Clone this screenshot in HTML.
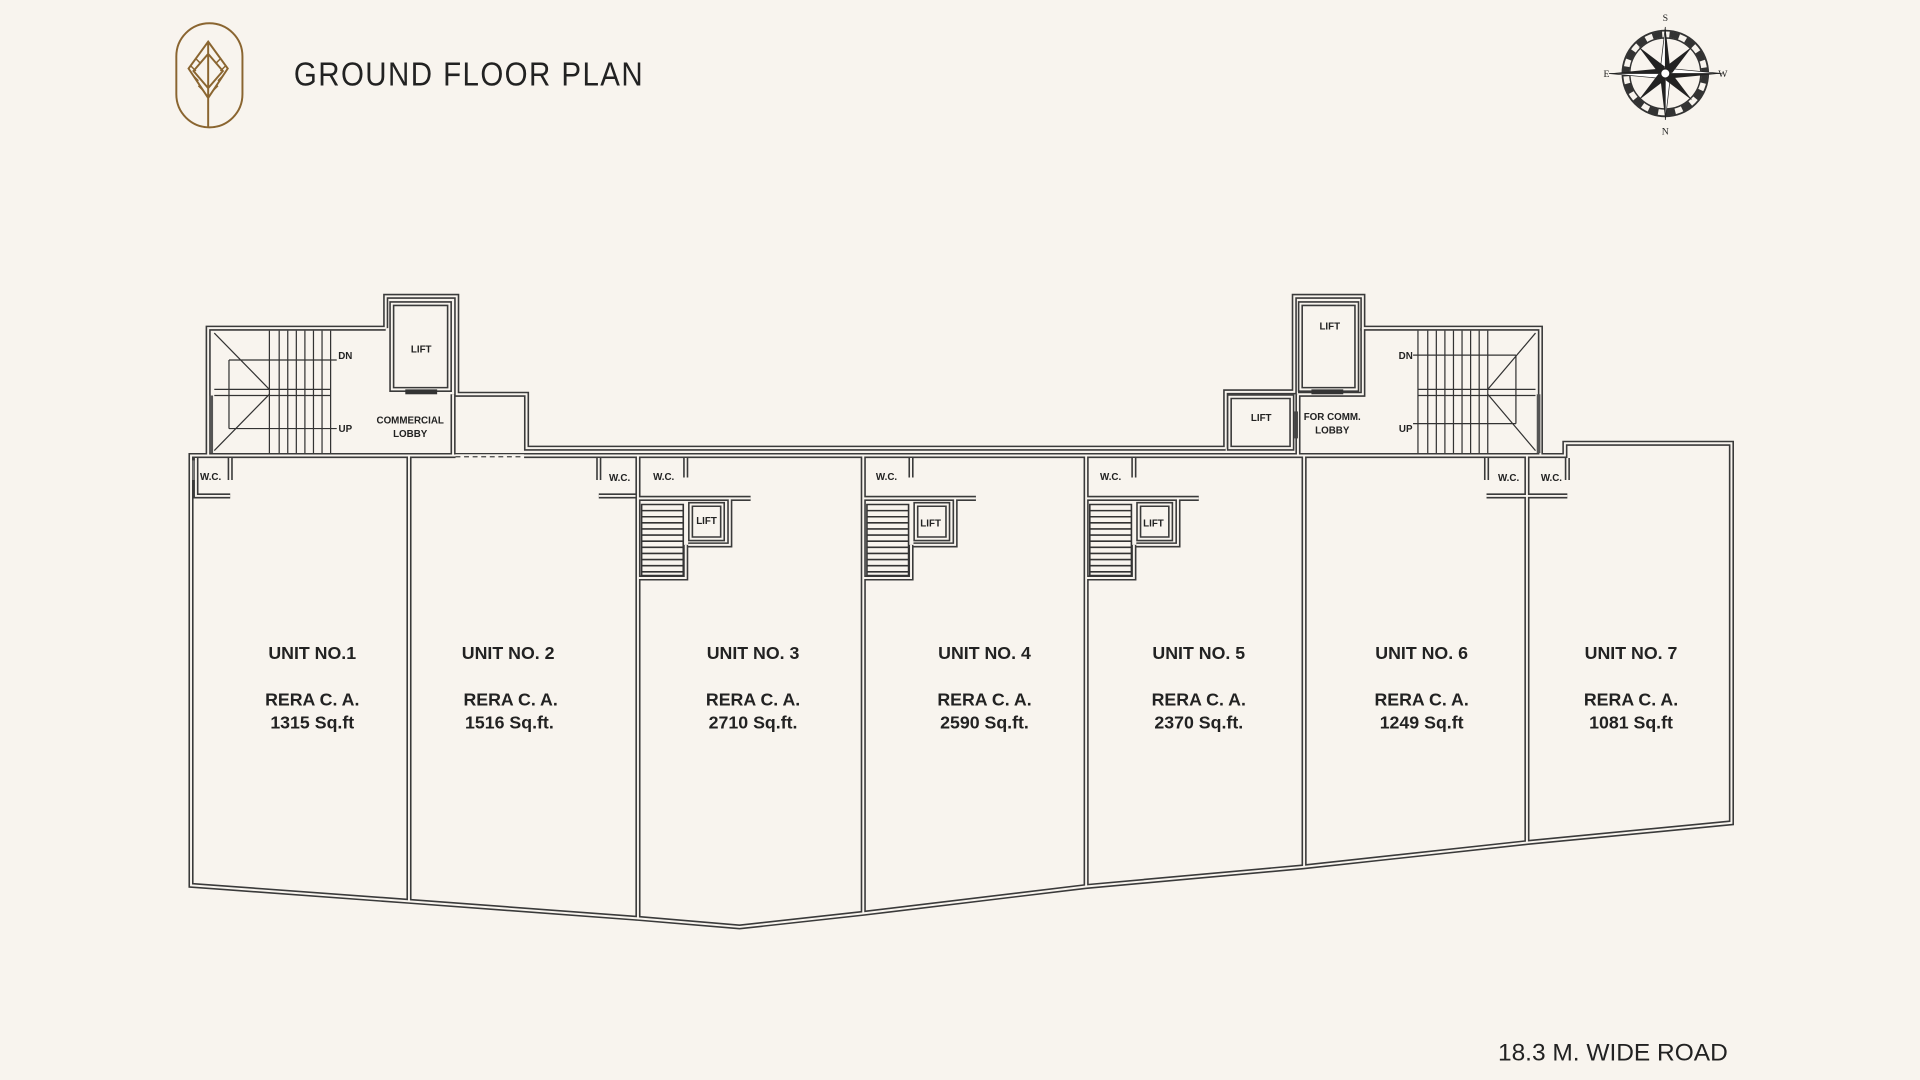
<!DOCTYPE html>
<html><head><meta charset="utf-8"><style>
html,body{margin:0;padding:0;background:#f8f4ee;}
svg{display:block}
.t{font-family:"Liberation Sans",sans-serif;font-weight:bold;fill:#222;text-anchor:middle}
</style></head><body>
<svg width="1920" height="1080" viewBox="0 0 1568 882" xmlns="http://www.w3.org/2000/svg">
<rect width="1568" height="882" fill="#f8f4ee"/>
<defs>
<g id="walls" fill="none">
 <path d="M156,372 H1278 V362 H1414 V672 L1248,688 L1064,708 L887,724 L704,746 L604,757 L521,750 L333,736 L156,723 Z"/>
 <path d="M334,372 V736 M521,372 V750 M705,372 V746 M887,372 V724 M1065,372 V708 M1247,372 V688"/>
 <path d="M170,372 V268 H315 M315,268 V242 H373 V322 H430 V366 H1001 M370,322 V372"/>
 <path d="M320,248 H367 V318 H320 Z"/>
 <path d="M1001,366 V320 H1057 V242 H1113 V268 H1258 V372"/>
 <path d="M1062,248 H1108 V318 H1062 Z"/>
 <path d="M1004,324 H1055 V366 H1004 Z"/>
 <path d="M1060,322 V372 M1113,268 V322 H1060"/>
 <path d="M160,374 V405 H188 M188,374 V392"/>
 <path d="M519,405 H489 M489,374 V392"/>
 <path d="M1214,374 V392 M1214,405 H1280 M1280,374 V392"/>
</g>
<g id="core" fill="none">
  <path d="M560,374 V390 M521,407 H613 M596,407 V445 H562 M560,445 V472 H521"/>
  <path d="M564,412 H590 V440 H564 Z"/>
</g>
<g id="stairs" stroke="#333" stroke-width="1.3" fill="none">
 <path d="M524,412 H558 V470 H524 Z M524,417 H558 M524,422 H558 M524,427 H558 M524,432 H558 M524,437 H558 M524,442 H558 M524,447 H558 M524,452 H558 M524,457 H558 M524,462 H558 M524,467 H558"/>
</g>
</defs>
<g stroke="#3a3a3a" stroke-width="4.2"><use href="#walls"/><use href="#core"/><use href="#core" x="184"/><use href="#core" x="366"/></g>
<g stroke="#f8f4ee" stroke-width="1.6"><use href="#walls"/><use href="#core"/><use href="#core" x="184"/><use href="#core" x="366"/></g>
<use href="#stairs"/><use href="#stairs" x="184"/><use href="#stairs" x="366"/>
<line x1="372" y1="373" x2="428" y2="373" stroke="#f8f4ee" stroke-width="4"/>
<line x1="372" y1="373" x2="428" y2="373" stroke="#444" stroke-width="1" stroke-dasharray="4,3"/>

<g stroke="#333" stroke-width="1" fill="none">
 <path d="M175,272 L220,318 M175,368 L220,322 M175,318 H270 M175,323 H270 M187,294 H275 M187,350 H275 M187,294 V350"/>
 <path d="M220,270 V370 M228,270 V370 M235,270 V370 M242,270 V370 M249,270 V370 M256,270 V370 M263,270 V370 M270,270 V370"/>
 <path d="M1158,270 V370 M1166,270 V370 M1173,270 V370 M1180,270 V370 M1187,270 V370 M1194,270 V370 M1201,270 V370 M1208,270 V370 M1215,270 V370"/>
 <path d="M1254,272 L1215,318 M1254,368 L1215,322 M1158,318 H1254 M1158,323 H1254 M1154,290 H1238 M1154,346 H1238 M1238,290 V346"/>
</g>
<rect x="171" y="323" width="3" height="47" fill="#555"/>
<rect x="1255" y="322" width="3" height="48" fill="#555"/>
<rect x="1057" y="336" width="3" height="22" fill="#444"/>
<rect x="331" y="318" width="26" height="4" fill="#333"/>
<rect x="1071" y="318" width="26" height="4" fill="#333"/>
<rect x="157" y="376" width="2" height="16" fill="#777"/>

<g class="t" font-size="8">
 <text x="282" y="293">DN</text><text x="282" y="353">UP</text>
 <text x="344" y="288">LIFT</text>
 <text x="335" y="346">COMMERCIAL</text><text x="335" y="357">LOBBY</text>
 <text x="1148" y="293">DN</text><text x="1148" y="353">UP</text>
 <text x="1086" y="269">LIFT</text><text x="1030" y="344">LIFT</text>
 <text x="1088" y="343">FOR COMM.</text><text x="1088" y="354">LOBBY</text>
 <text x="172" y="392">W.C.</text><text x="506" y="393">W.C.</text>
 <text x="542" y="392">W.C.</text><text x="724" y="392">W.C.</text><text x="907" y="392">W.C.</text>
 <text x="1232" y="393">W.C.</text><text x="1267" y="393">W.C.</text>
 <text x="577" y="428">LIFT</text><text x="760" y="430">LIFT</text><text x="942" y="430">LIFT</text>
</g>
<g class="t" font-size="14.5">
 <text x="255" y="538">UNIT NO.1</text><text x="255" y="576">RERA C. A.</text><text x="255" y="595">1315 Sq.ft</text>
 <text x="415" y="538">UNIT NO. 2</text><text x="417" y="576">RERA C. A.</text><text x="416" y="595">1516 Sq.ft.</text>
 <text x="615" y="538">UNIT NO. 3</text><text x="615" y="576">RERA C. A.</text><text x="615" y="595">2710 Sq.ft.</text>
 <text x="804" y="538">UNIT NO. 4</text><text x="804" y="576">RERA C. A.</text><text x="804" y="595">2590 Sq.ft.</text>
 <text x="979" y="538">UNIT NO. 5</text><text x="979" y="576">RERA C. A.</text><text x="979" y="595">2370 Sq.ft.</text>
 <text x="1161" y="538">UNIT NO. 6</text><text x="1161" y="576">RERA C. A.</text><text x="1161" y="595">1249 Sq.ft</text>
 <text x="1332" y="538">UNIT NO. 7</text><text x="1332" y="576">RERA C. A.</text><text x="1332" y="595">1081 Sq.ft</text>
</g>

<g fill="none" stroke="#8a6530" stroke-width="1.6">
 <rect x="144" y="19" width="54" height="85" rx="27"/>
 <path d="M170,34 L186,56 L170,80 L154,56 Z M170,44 L182,58 L170,72 L158,58 Z M170,34 V104"/>
 <path d="M160,48 L164,52 M156,54 L160,58 M180,48 L176,52 M184,54 L180,58 M158,62 L162,66 M182,62 L178,66 M162,70 L166,74 M178,70 L174,74" stroke-width="1.2"/>
</g>
<text x="240" y="70" font-family="'Liberation Sans',sans-serif" font-size="27" fill="#222" letter-spacing="1.3" textLength="286" lengthAdjust="spacingAndGlyphs">GROUND FLOOR PLAN</text>
<text x="1411" y="866" font-family="'Liberation Sans',sans-serif" font-size="20" fill="#222" text-anchor="end">18.3 M. WIDE ROAD</text>

<g transform="translate(1360,60)">
 <circle r="35" fill="none" stroke="#333" stroke-width="1.5"/>
 <circle r="29" fill="none" stroke="#333" stroke-width="1.2"/>
 <circle r="32" fill="none" stroke="#333" stroke-width="5" stroke-dasharray="8,6"/>
 <path d="M0,-38 L4,-4 L0,0 Z M0,38 L-4,4 L0,0Z M-46,0 L-4,-4 L0,0Z M46,0 L4,4 L0,0Z" fill="#222"/>
 <path d="M0,-38 L-4,-4 L0,0 Z M0,38 L4,4 L0,0Z M-46,0 L-4,4 L0,0Z M46,0 L4,-4 L0,0Z" fill="#fff" stroke="#222" stroke-width="0.6"/>
 <path d="M-22,-22 L3,-3 L-3,3Z M22,22 L-3,3 L3,-3Z M22,-22 L-3,-3 L3,3Z M-22,22 L3,3 L-3,-3Z" fill="#222"/>
 <circle r="4" fill="#fff" stroke="#222" stroke-width="1.5"/>
 <g font-family="'Liberation Serif',serif" font-size="8" fill="#222" text-anchor="middle">
  <text y="-43">S</text><text y="50">N</text><text x="-48" y="3">E</text><text x="47" y="3">W</text>
 </g>
</g>
</svg>
</body></html>
